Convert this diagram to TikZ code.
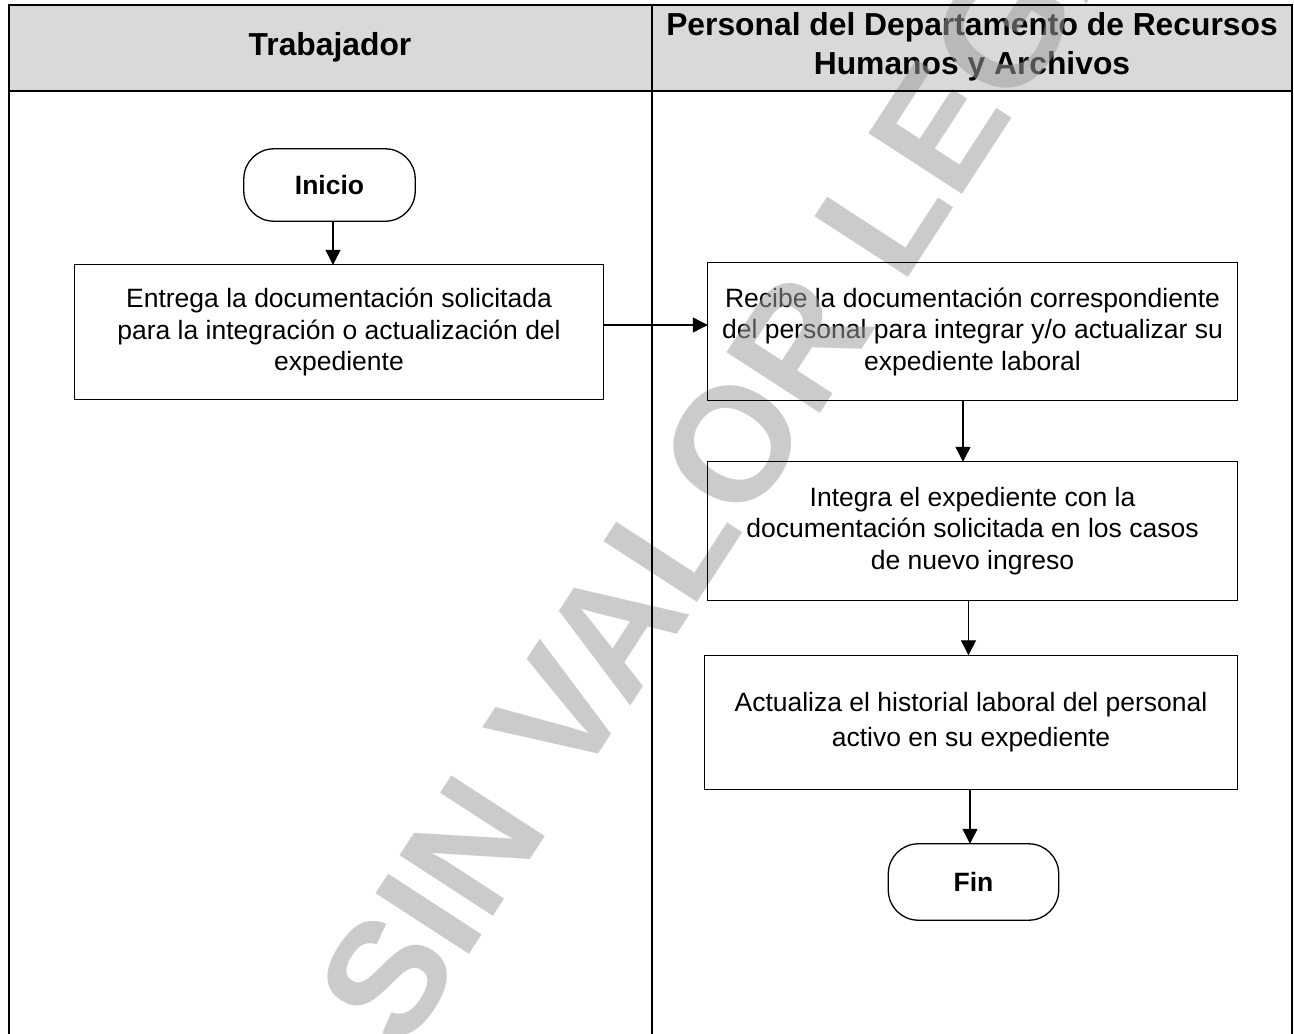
\documentclass[tikz,border=0pt]{standalone}
\usepackage{fontspec}
\setmainfont{Liberation Sans}
\usetikzlibrary{arrows.meta}
\definecolor{hdrgray}{gray}{0.85}
\begin{document}
\begin{tikzpicture}[x=1pt,y=1pt,
  lane/.style={line width=1.7pt, line cap=rect},
  proc/.style={rectangle, inner sep=0pt, align=center,
    font=\fontsize{26.5}{31.5}\selectfont},
  term/.style={rectangle, inner sep=0pt,
    font=\bfseries\fontsize{26.5}{31}\selectfont},
  frame/.style={line width=1.3pt},
  tframe/.style={line width=1.3pt, rounded corners=30pt},
  arr/.style={line width=1.1pt, -{Triangle[length=15pt,width=15pt]}},
  head/.style={align=center, inner sep=0pt, font=\bfseries\fontsize{31.8}{39}\selectfont},
  wmark/.style={transform shape, anchor=base, inner sep=0pt, text=black!38,
    text opacity=0.53, font=\bfseries\fontsize{162}{162}\selectfont}
]
\useasboundingbox (0,0) rectangle (1294,-1034);
\fill[white] (0,0) rectangle (1294,-1034);
\clip (0,0) rectangle (1294,-1034);

% header background and titles
\fill[hdrgray] (9,-5) rectangle (1292,-91);
\node[head] (h1) at (330,-47) {Trabajador};
\node[head] (h2) at (972,-46.5) {Personal del Departamento de Recursos\\Humanos y Archivos};

% node texts
\node[term, minimum width=171pt, minimum height=72pt] (ini) at (329.5,-185) {Inicio};
\node[proc, minimum width=528pt, minimum height=134pt] (b1) at (339,-332)
  {Entrega la documentación solicitada\\para la integración o actualización del\\expediente};
\node[proc, minimum width=529pt, minimum height=137pt] (b2) at (972.5,-331.5)
  {Recibe la documentación correspondiente\\del personal para integrar y/o actualizar su\\expediente laboral};
\node[proc, minimum width=529.5pt, minimum height=138pt] (b3) at (972.5,-531)
  {Integra el expediente con la\\documentación solicitada en los casos\\de nuevo ingreso};
\node[proc, minimum width=532pt, minimum height=134pt,
  font=\fontsize{26.5}{35}\selectfont] (b4) at (971,-722.5)
  {Actualiza el historial laboral del personal\\activo en su expediente};
\node[term, minimum width=170pt, minimum height=76pt] (fin) at (973.5,-882) {Fin};

% watermark (over texts, under lines)
\begin{scope}[shift={(803,-440)}, rotate=57]
\node[wmark] (wm) at (0,0) {SIN VALOR LEGAL};
\end{scope}

% lanes
\draw[lane] (9,-1040) -- (9,-5) -- (1292,-5) -- (1292,-1040);
\draw[lane] (9,-91) -- (1292,-91);
\draw[lane] (652,-5) -- (652,-1040);

% node frames
\draw[tframe] (ini.south west) rectangle (ini.north east);
\draw[frame] (b1.south west) rectangle (b1.north east);
\draw[frame] (b2.south west) rectangle (b2.north east);
\draw[frame] (b3.south west) rectangle (b3.north east);
\draw[frame] (b4.south west) rectangle (b4.north east);
\draw[tframe] (fin.south west) rectangle (fin.north east);

% connectors
\coordinate (a1) at ([xshift=3.5pt]ini.south);
\draw[arr] (a1) -- (a1 |- b1.north);
\coordinate (a2) at ([yshift=7pt]b1.east);
\draw[arr] (a2) -- (a2 -| b2.west);
\coordinate (a3) at ([xshift=-9.5pt]b2.south);
\draw[arr] (a3) -- (a3 |- b3.north);
\coordinate (a4) at ([xshift=-4pt]b3.south);
\draw[arr] (a4) -- (a4 |- b4.north);
\coordinate (a5) at ([xshift=-1pt]b4.south);
\draw[arr] (a5) -- (a5 |- fin.north);
\end{tikzpicture}
\end{document}
